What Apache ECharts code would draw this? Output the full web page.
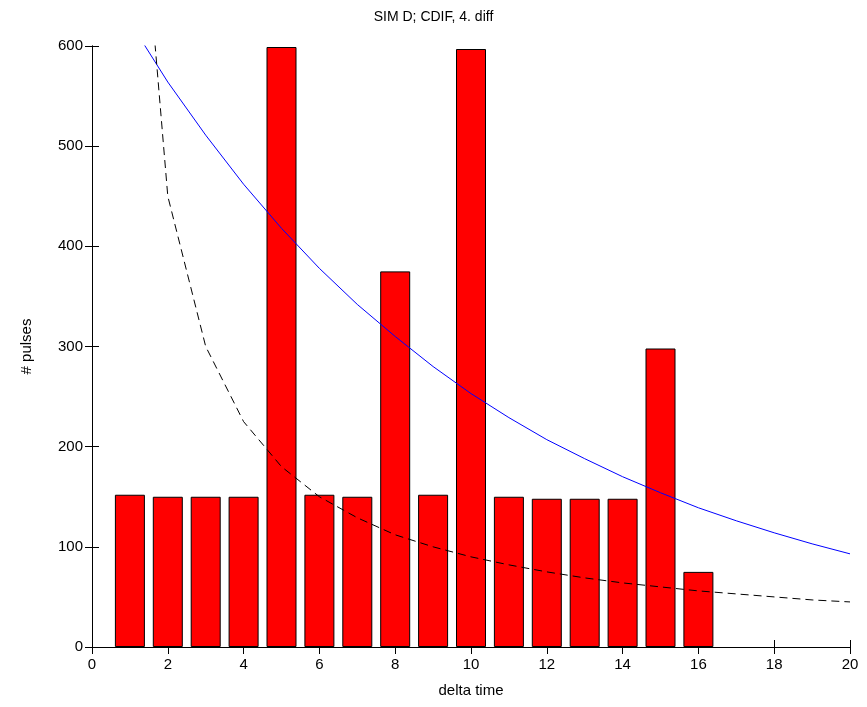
<!DOCTYPE html>
<html>
<head>
<meta charset="utf-8">
<script src="https://cdn.jsdelivr.net/npm/echarts@6/dist/echarts.min.js"></script>
<style>
  html, body { margin: 0; padding: 0; background: #fff; }
  #chart { width: 867px; height: 707px; }
</style>
</head>
<body>
<div id="chart"></div>
<script>
// Histogram of pulse counts per delta time, with two reference curves
const barX = [1, 2, 3, 4, 5, 6, 7, 8, 9, 10, 11, 12, 13, 14, 15, 16];
const barCounts = [152, 150, 150, 150, 599, 152, 150, 375, 152, 597, 150, 148, 148, 148, 298, 75];

const curveX = [1, 2, 3, 4, 5, 6, 7, 8, 9, 10, 11, 12, 13, 14, 15, 16, 17, 18, 19, 20];
const expCurve = [624, 564, 511, 462, 418, 378, 342, 310, 280, 253, 229, 207, 188, 170, 154, 139, 126, 114, 103, 93];
const invCurve = [900, 450, 300, 225, 180, 150, 129, 112, 100, 90, 82, 75, 69, 64, 60, 56, 53, 50, 47, 45];

const xTicks = [0, 2, 4, 6, 8, 10, 12, 14, 16, 18, 20];
const yTicks = [0, 100, 200, 300, 400, 500, 600];

const font = 'Liberation Sans, Arial, sans-serif';
const pair = (xs, ys) => xs.map((x, i) => [x, ys[i]]);

const axisLine = { show: true, lineStyle: { color: '#000', width: 1 } };
const tickIn = { show: true, inside: true, length: 7, lineStyle: { color: '#000', width: 1 } };

const chart = echarts.init(document.getElementById('chart'), null, { renderer: 'canvas' });
chart.setOption({
  animation: false,
  backgroundColor: '#fff',
  title: {
    text: 'SIM D; CDIF, 4. diff',
    left: 'center',
    top: 5,
    textStyle: { fontFamily: font, fontSize: 14, fontWeight: 'normal', color: '#000' }
  },
  grid: { left: 92, right: 17, top: 46, bottom: 60 },
  xAxis: [
    {
      type: 'value', min: xTicks[0], max: xTicks[xTicks.length - 1], interval: 2,
      position: 'bottom',
      name: 'delta time', nameLocation: 'middle', nameGap: 36,
      nameTextStyle: { fontFamily: font, fontSize: 15, color: '#000' },
      axisLine, axisTick: tickIn, splitLine: { show: false },
      axisLabel: { fontFamily: font, fontSize: 15, color: '#000', margin: 10 }
    },
    {
      type: 'value', min: xTicks[0], max: xTicks[xTicks.length - 1], interval: 2,
      position: 'top',
      axisLine, axisTick: tickIn, splitLine: { show: false },
      axisLabel: { show: false }
    }
  ],
  yAxis: [
    {
      type: 'value', min: yTicks[0], max: yTicks[yTicks.length - 1], interval: 100,
      position: 'left',
      name: '# pulses', nameLocation: 'middle', nameGap: 58,
      nameTextStyle: { fontFamily: font, fontSize: 15, color: '#000' },
      axisLine, axisTick: tickIn, splitLine: { show: false },
      axisLabel: { fontFamily: font, fontSize: 15, color: '#000', margin: 9 }
    },
    {
      type: 'value', min: yTicks[0], max: yTicks[yTicks.length - 1], interval: 100,
      position: 'right',
      axisLine, axisTick: tickIn, splitLine: { show: false },
      axisLabel: { show: false }
    }
  ],
  series: [
    {
      type: 'bar',
      data: pair(barX, barCounts),
      barWidth: 30,
      itemStyle: { color: '#ff0000', borderColor: '#000', borderWidth: 1 }
    },
    {
      type: 'line',
      data: pair(curveX, expCurve),
      showSymbol: false,
      clip: true,
      lineStyle: { color: '#0000ff', width: 1 }
    },
    {
      type: 'line',
      data: pair(curveX, invCurve),
      showSymbol: false,
      clip: true,
      lineStyle: { color: '#000', width: 1, type: [8, 5] }
    }
  ]
});
</script>
</body>
</html>
